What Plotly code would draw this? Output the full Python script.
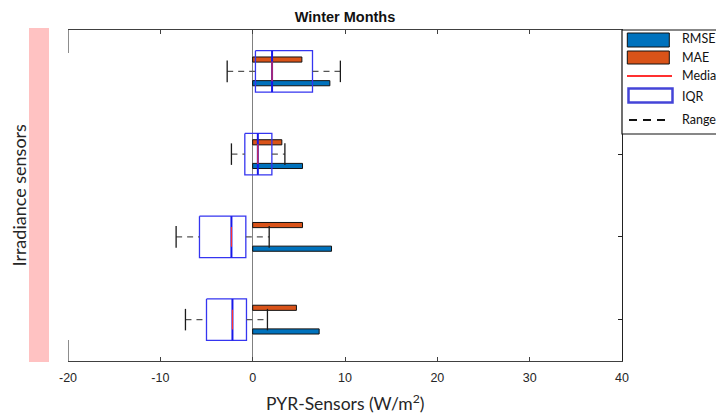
import plotly.graph_objects as go

# Sensor rows (1 = top) and error statistics in W/m^2
sensor_pos = [1, 2, 3, 4]
rmse = [8.36, 5.40, 8.54, 7.20]
mae = [5.33, 3.16, 5.40, 4.74]
q1 = [0.30, -0.85, -5.76, -5.00]
q3 = [6.48, 2.08, -0.74, -0.67]
median = [2.10, 0.56, -2.30, -2.19]
range_min = [-2.76, -2.30, -8.29, -7.28]
range_max = [9.50, 3.49, 1.79, 1.60]
x_ticks = [-20, -10, 0, 10, 20, 30, 40]
x_tick_labels = ["-20", "-10", "0", "10", "20", "30", "40"]

RMSE_C = "#0072BD"
MAE_C = "#D95319"
BOX_C = "#3535F0"
MED_C = "#FF3030"

BOX_H = 0.25
CAP_H = 0.13
BAR_OFF = 0.143
BAR_W = 0.062

W, H = 716, 415
ML, MR, MT, MB = 68, 94, 30, 54
PW, PH = W - ML - MR, H - MT - MB


def px(x):
    return (x - ML) / PW


def py(y):
    return (H - MB - y) / PH


def seg(xs_pairs, ys_pairs):
    xs, ys = [], []
    for (xa, xb), (ya, yb) in zip(xs_pairs, ys_pairs):
        xs += [xa, xb, None]
        ys += [ya, yb, None]
    return xs, ys


fig = go.Figure()

# IQR boxes
bx, by = [], []
for p, a, b in zip(sensor_pos, q1, q3):
    bx += [a, b, b, a, a, None]
    by += [p - BOX_H, p - BOX_H, p + BOX_H, p + BOX_H, p - BOX_H, None]
fig.add_trace(go.Scatter(x=bx, y=by, mode="lines",
                         line=dict(color=BOX_C, width=1.3), hoverinfo="skip"))

# median lines
mx, my = seg([(m, m) for m in median], [(p - BOX_H, p + BOX_H) for p in sensor_pos])
fig.add_trace(go.Scatter(x=mx, y=my, mode="lines",
                         line=dict(color="#1818E8", width=2), hoverinfo="skip"))
mx, my = seg([(m, m) for m in median], [(p - 0.12, p + 0.12) for p in sensor_pos])
fig.add_trace(go.Scatter(x=mx, y=my, mode="lines",
                         line=dict(color=MED_C, width=1.1), hoverinfo="skip"))

# dashed range whiskers
wx, wy = [], []
for p, lo, a, b, hi in zip(sensor_pos, range_min, q1, q3, range_max):
    wx += [lo, a, None, b, hi, None]
    wy += [p, p, None, p, p, None]
fig.add_trace(go.Scatter(x=wx, y=wy, mode="lines",
                         line=dict(color="#555555", width=1.3, dash="6px,5px"),
                         hoverinfo="skip"))

# whisker end caps
cx, cy = [], []
for p, lo, hi in zip(sensor_pos, range_min, range_max):
    cx += [lo, lo, None, hi, hi, None]
    cy += [p - CAP_H, p + CAP_H, None, p - CAP_H, p + CAP_H, None]
fig.add_trace(go.Scatter(x=cx, y=cy, mode="lines",
                         line=dict(color="#1a1a1a", width=1.3), hoverinfo="skip"))

# error bars (MAE above, RMSE below each row)
fig.add_trace(go.Bar(orientation="h", x=mae, y=[p - BAR_OFF for p in sensor_pos],
                     width=BAR_W, base=0, name="MAE",
                     marker=dict(color=MAE_C, line=dict(color="#111111", width=1))))
fig.add_trace(go.Bar(orientation="h", x=rmse, y=[p + BAR_OFF for p in sensor_pos],
                     width=BAR_W, base=0, name="RMSE",
                     marker=dict(color=RMSE_C, line=dict(color="#111111", width=1))))

shapes = [
    # pink band at the left
    dict(type="rect", xref="paper", yref="paper", x0=px(29), x1=px(49),
         y0=py(362), y1=py(28), fillcolor="#FFC2C2", line=dict(width=0), layer="below"),
    # short left-edge segments
    dict(type="line", xref="x", yref="paper", x0=-20, x1=-20, y0=1, y1=py(53),
         line=dict(color="#404040", width=1.2)),
    dict(type="line", xref="x", yref="paper", x0=-20, x1=-20, y0=0, y1=py(340),
         line=dict(color="#404040", width=1.2)),
    # legend frame and keys
    dict(type="rect", xref="paper", yref="paper", x0=1.0, x1=px(780),
         y0=py(134), y1=1.0, fillcolor="white", line=dict(color="#111111", width=1.2)),
    dict(type="rect", xref="paper", yref="paper", x0=px(627.3), x1=px(669.3),
         y0=py(47), y1=py(33), fillcolor=RMSE_C, line=dict(color="#111111", width=1)),
    dict(type="rect", xref="paper", yref="paper", x0=px(627.3), x1=px(669.3),
         y0=py(64), y1=py(51), fillcolor=MAE_C, line=dict(color="#111111", width=1)),
    dict(type="line", xref="paper", yref="paper", x0=px(627), x1=px(672),
         y0=py(76), y1=py(76), line=dict(color=MED_C, width=2)),
    dict(type="rect", xref="paper", yref="paper", x0=px(628.5), x1=px(672.5),
         y0=py(102.5), y1=py(88.5), fillcolor="white", line=dict(color="#4444D8", width=2.5)),
    dict(type="line", xref="paper", yref="paper", x0=px(629), x1=px(671),
         y0=py(120), y1=py(120), line=dict(color="#111111", width=2, dash="8px,6px")),
]

legend_labels = [("RMSE", 38.7), ("MAE", 57.7), ("Median", 76), ("IQR", 96.7), ("Range", 119.3)]
annotations = [
    dict(text=t, x=px(680), y=py(yy), xref="paper", yref="paper", xanchor="left",
         yanchor="middle", showarrow=False,
         font=dict(family="Lato, Open Sans, sans-serif", size=12.5, color="#111111"))
    for t, yy in legend_labels
]
annotations += [
    dict(text="Irradiance sensors", x=px(18), y=py(195.5), xref="paper", yref="paper",
         textangle=-90, showarrow=False, xanchor="center", yanchor="middle",
         font=dict(family="Lato, Open Sans, sans-serif", size=18, color="#262626")),
    dict(text="PYR-Sensors (W/m<sup>2</sup>)", x=0.5, y=py(402), xref="paper", yref="paper",
         showarrow=False, xanchor="center", yanchor="middle",
         font=dict(family="Lato, Open Sans, sans-serif", size=17.5, color="#262626")),
]

fig.update_layout(
    width=W, height=H,
    margin=dict(l=ML, r=MR, t=MT, b=MB),
    plot_bgcolor="white", paper_bgcolor="white",
    showlegend=False, barmode="overlay",
    title=dict(text="<b>Winter Months</b>", x=px(345), xref="paper", y=1 - 17 / H,
               yref="container", xanchor="center", yanchor="middle",
               font=dict(family="Arial, Liberation Sans, sans-serif", size=14.5, color="#111111")),
    xaxis=dict(range=[-20, 40], tickvals=x_ticks, ticktext=x_tick_labels, ticks="inside",
               ticklen=4, tickcolor="#404040", showline=True, linecolor="#404040",
               linewidth=1.2, mirror="ticks", showgrid=False, zeroline=True,
               zerolinecolor="#808080", zerolinewidth=1.3, ticklabelstandoff=5,
               tickfont=dict(family="Arial, Liberation Sans, sans-serif", size=12.5,
                             color="#262626")),
    yaxis=dict(range=[4.5, 0.5], side="right", tickvals=sensor_pos[1:], ticks="inside",
               ticklen=4, tickcolor="#222222", showline=True, linecolor="#222222",
               linewidth=1.2, showticklabels=False, showgrid=False, zeroline=False),
    shapes=shapes,
    annotations=annotations,
)

fig.write_html("out.html")
